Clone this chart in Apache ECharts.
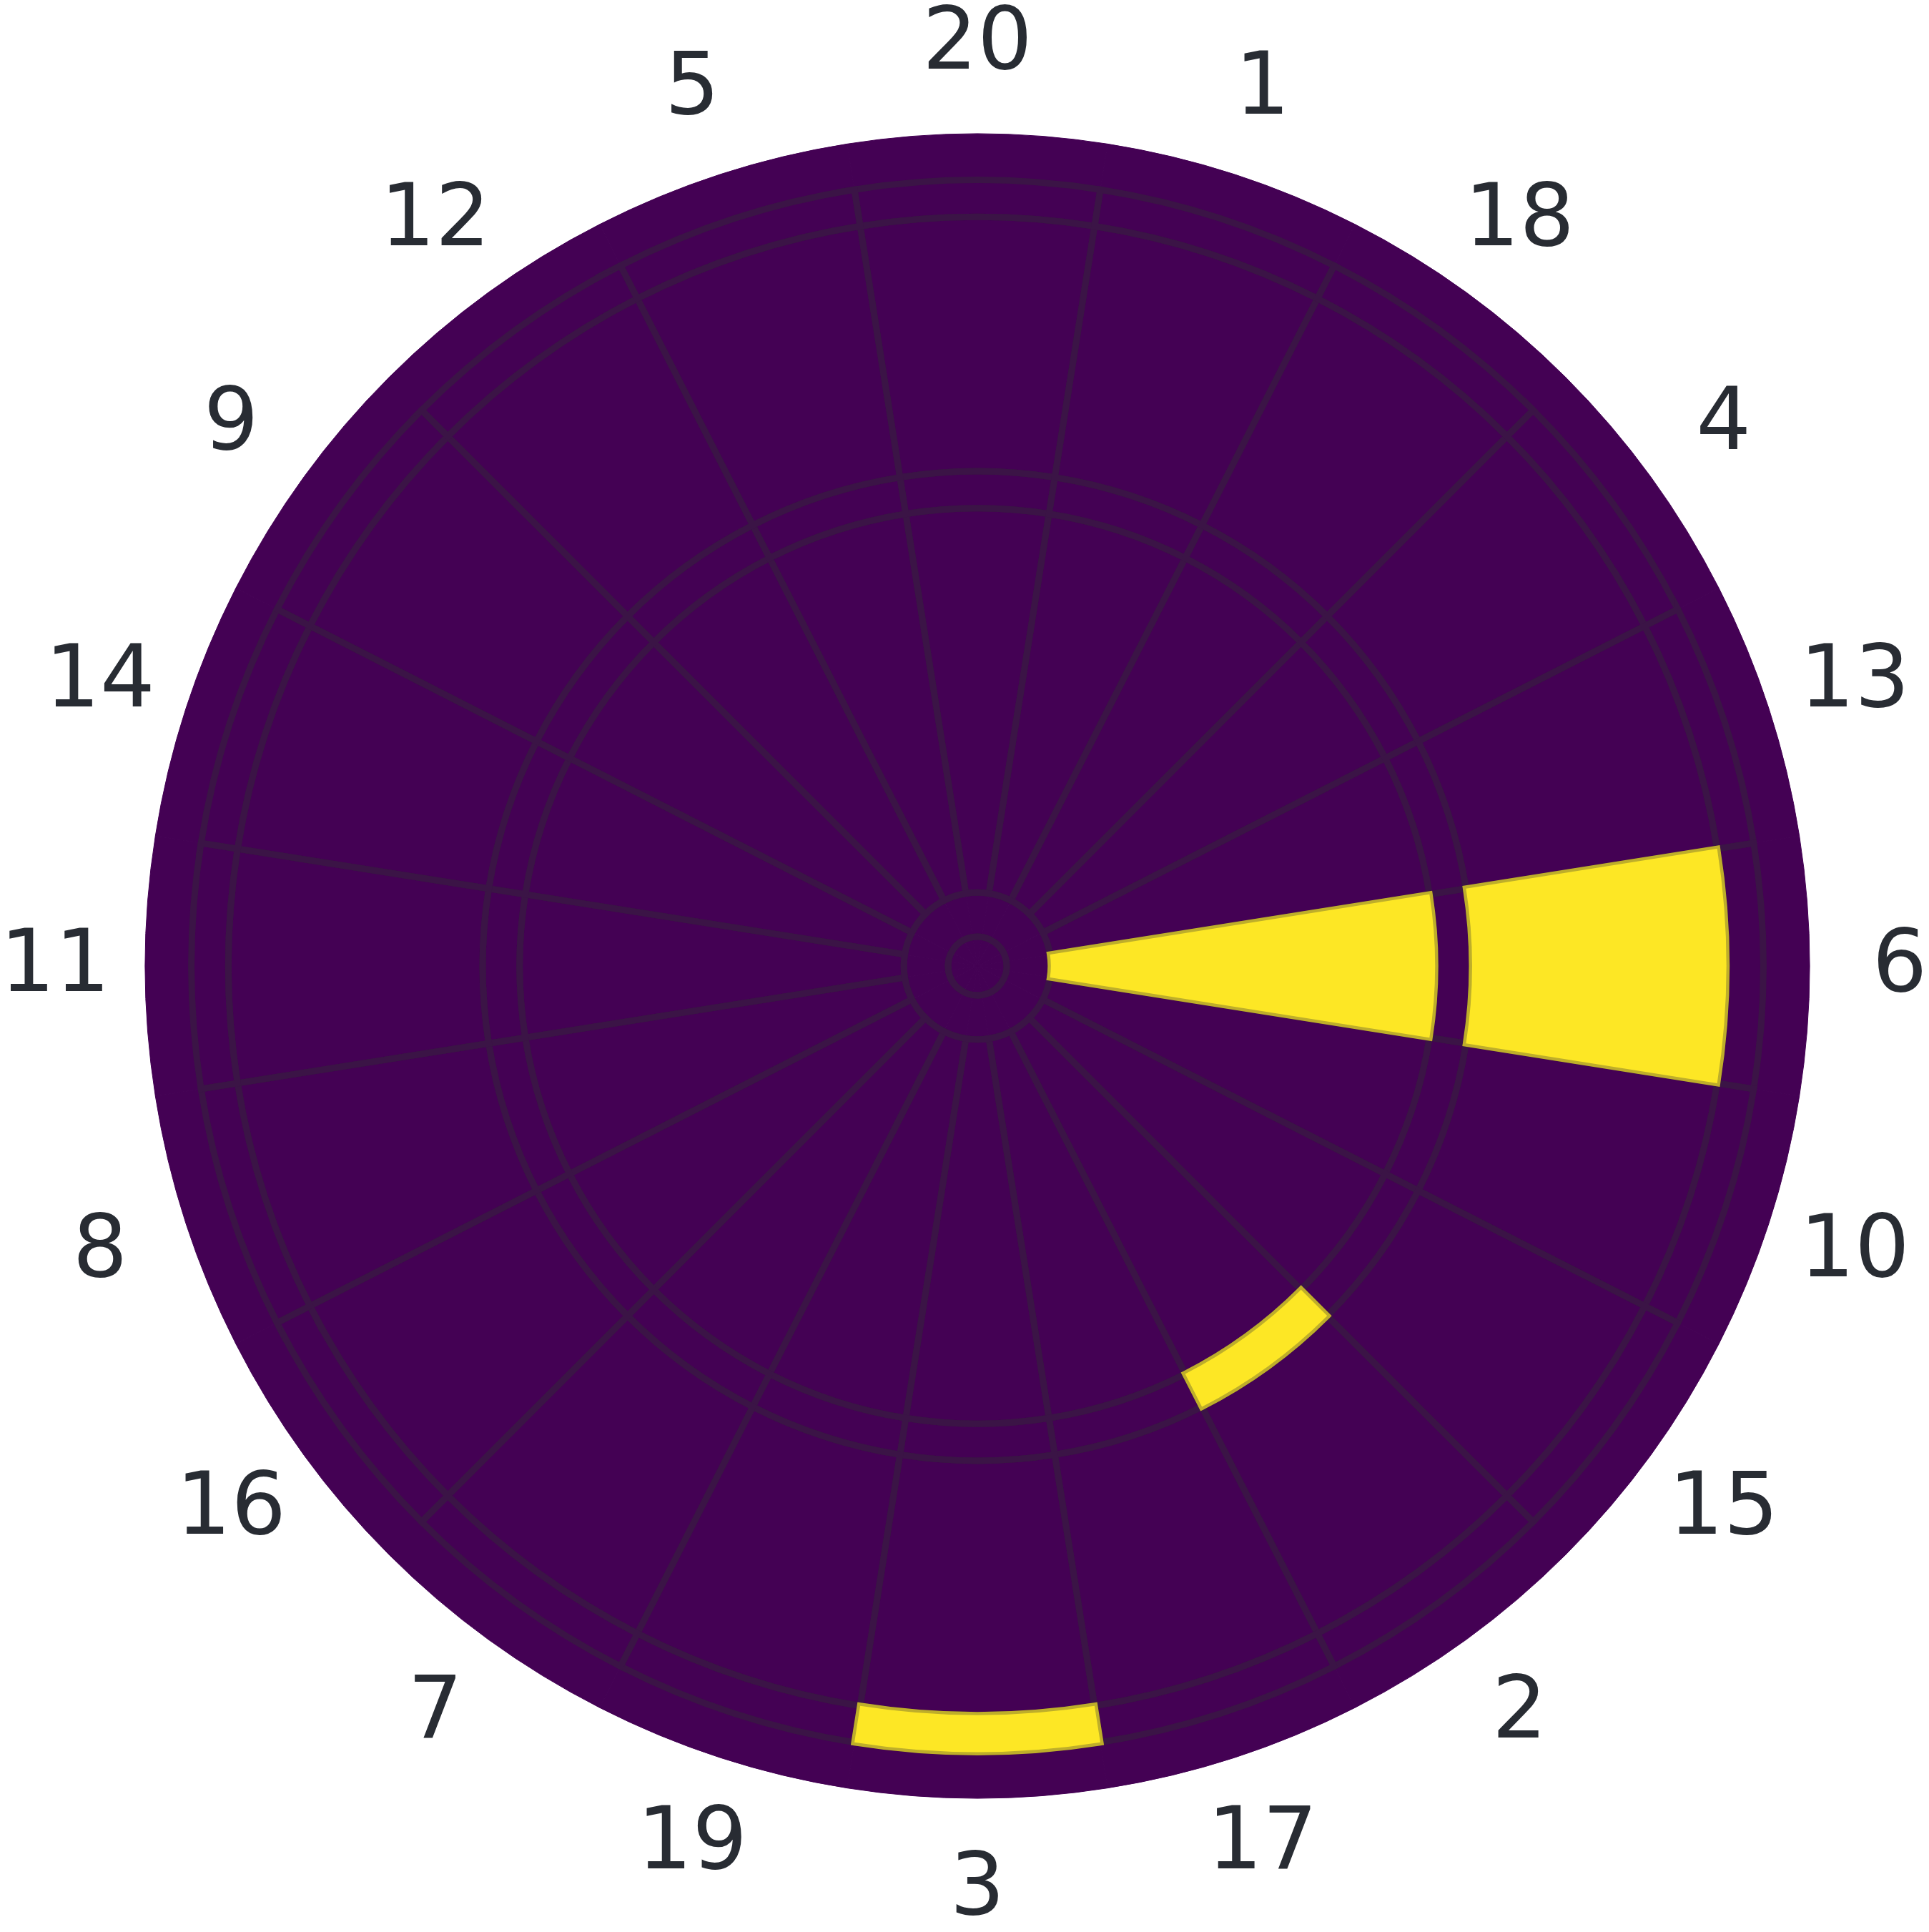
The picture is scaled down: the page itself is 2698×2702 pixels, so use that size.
<!DOCTYPE html>
<html><head><meta charset="utf-8">
<script src="https://cdn.jsdelivr.net/npm/echarts@6/dist/echarts.min.js"></script>
<style>html,body{margin:0;padding:0;background:#fff}#c{width:2698px;height:2702px}</style>
</head><body><div id="c"></div>
<script>
// ---- data ----
const sectors = ['20','1','18','4','13','6','10','15','2','17','3','19','7','16','8','11','14','9','12','5'];
// ring boundaries (mm from the centre)
const ringEdges = [0, 6.35, 15.9, 99, 107, 162, 170, 180];
// heat values per ring, one per sector in the order above (single entry = whole ring)
const innerBull   = [0];
const outerBull   = [0];
const innerSingle = [0,0,0,0,0,1,0,0,0,0,0,0,0,0,0,0,0,0,0,0];
const treble      = [0,0,0,0,0,0,0,0,1,0,0,0,0,0,0,0,0,0,0,0];
const outerSingle = [0,0,0,0,0,1,0,0,0,0,0,0,0,0,0,0,0,0,0,0];
const doubleRing  = [0,0,0,0,0,0,0,0,0,0,1,0,0,0,0,0,0,0,0,0];
const outsideRing = [0];
const valueRange  = [0, 1];

// ---- styling / layout ----
const rings = [innerBull, outerBull, innerSingle, treble, outerSingle, doubleRing, outsideRing];
const gridded = [false, false, true, true, true, true, false];
const VIRIDIS = ['#440154','#482878','#3e4989','#31688e','#26828e','#1f9e89','#35b779','#6ece58','#b5de2b','#fde725'];
const GRID = '#3b1446';
const OLIVE = '#beae2a';
const TEXT = '#282c33';
const CX = 1367, CY = 1351, R = 1164, LABEL_R = 199.5;

function colorOf(v) {
  const t = (v - valueRange[0]) / (valueRange[1] - valueRange[0]);
  return echarts.color.lerp(Math.max(0, Math.min(1, t)), VIRIDIS);
}
function valAt(ring, i) { const a = rings[ring]; return a.length === 1 ? a[0] : a[i]; }

const NPOLAR = 5;
const polar = [], angleAxis = [], radiusAxis = [];
for (let p = 0; p < NPOLAR; p++) {
  polar.push({ center: [CX, CY], radius: R });
  angleAxis.push({
    polarIndex: p, type: 'category', data: p === 2 ? ['bull'] : sectors,
    startAngle: 99, clockwise: true, boundaryGap: true,
    axisLine: { show: false }, axisTick: { show: false }, axisLabel: { show: false },
    splitLine: { show: false }, splitArea: { show: false }
  });
  radiusAxis.push({
    polarIndex: p, type: 'value', min: ringEdges[0], max: ringEdges[ringEdges.length - 1],
    axisLine: { show: false }, axisTick: { show: false }, axisLabel: { show: false },
    splitLine: { show: false }, splitArea: { show: false }
  });
}

function layer(polarIndex, stack, z, styleFn) {
  const out = [];
  for (let r = 0; r < rings.length; r++) {
    const thick = ringEdges[r + 1] - ringEdges[r];
    const cats = polarIndex === 2 ? ['bull'] : sectors;
    out.push({
      type: 'bar', coordinateSystem: 'polar', polarIndex, stack, z,
      barCategoryGap: '0%', barGap: '0%', silent: true, animation: false,
      data: cats.map((c, i) => ({ value: thick, itemStyle: styleFn(valAt(r, i), r) }))
    });
  }
  return out;
}

const series = [].concat(
  // heat cells
  layer(0, 'heat', 1, (v) => { const c = colorOf(v); return { color: c, borderColor: c, borderWidth: 1 }; }),
  // grid lines (segments / rings)
  layer(1, 'grid', 2, (v, r) => gridded[r]
    ? { color: 'rgba(0,0,0,0)', borderColor: GRID, borderWidth: 9 }
    : { color: 'rgba(0,0,0,0)', borderWidth: 0 }),
  // bull circles
  layer(2, 'bull', 2, (v, r) => r < 2
    ? { color: 'rgba(0,0,0,0)', borderColor: GRID, borderWidth: 9 }
    : { color: 'rgba(0,0,0,0)', borderWidth: 0 }),
  // highlighted cells: soft edge
  layer(3, 'ext', 3, (v) => v > valueRange[0]
    ? { color: colorOf(v), borderColor: OLIVE, borderWidth: 9 }
    : { color: 'rgba(0,0,0,0)', borderWidth: 0 }),
  // highlighted cells: crisp fill
  layer(4, 'top', 4, (v) => v > valueRange[0]
    ? { color: colorOf(v), borderWidth: 0 }
    : { color: 'rgba(0,0,0,0)', borderWidth: 0 }),
  [{
    type: 'scatter', coordinateSystem: 'polar', polarIndex: 0, z: 10, clip: false,
    silent: true, animation: false, symbolSize: 1,
    itemStyle: { color: 'rgba(0,0,0,0)', opacity: 1 },
    encode: { angle: 0, radius: 1 },
    data: sectors.map(s => [s, LABEL_R]),
    label: {
      show: true, position: 'inside', opacity: 1, offset: [0, 4],
      formatter: p => sectors[p.dataIndex],
      fontFamily: 'DejaVu Sans', fontSize: 121, color: TEXT,
      textBorderWidth: 0, textBorderColor: 'none', textShadowBlur: 0
    }
  }]
);

const chart = echarts.init(document.getElementById('c'), null, { renderer: 'canvas' });
chart.setOption({ animation: false, backgroundColor: '#ffffff', polar, angleAxis, radiusAxis, series });
</script></body></html>
